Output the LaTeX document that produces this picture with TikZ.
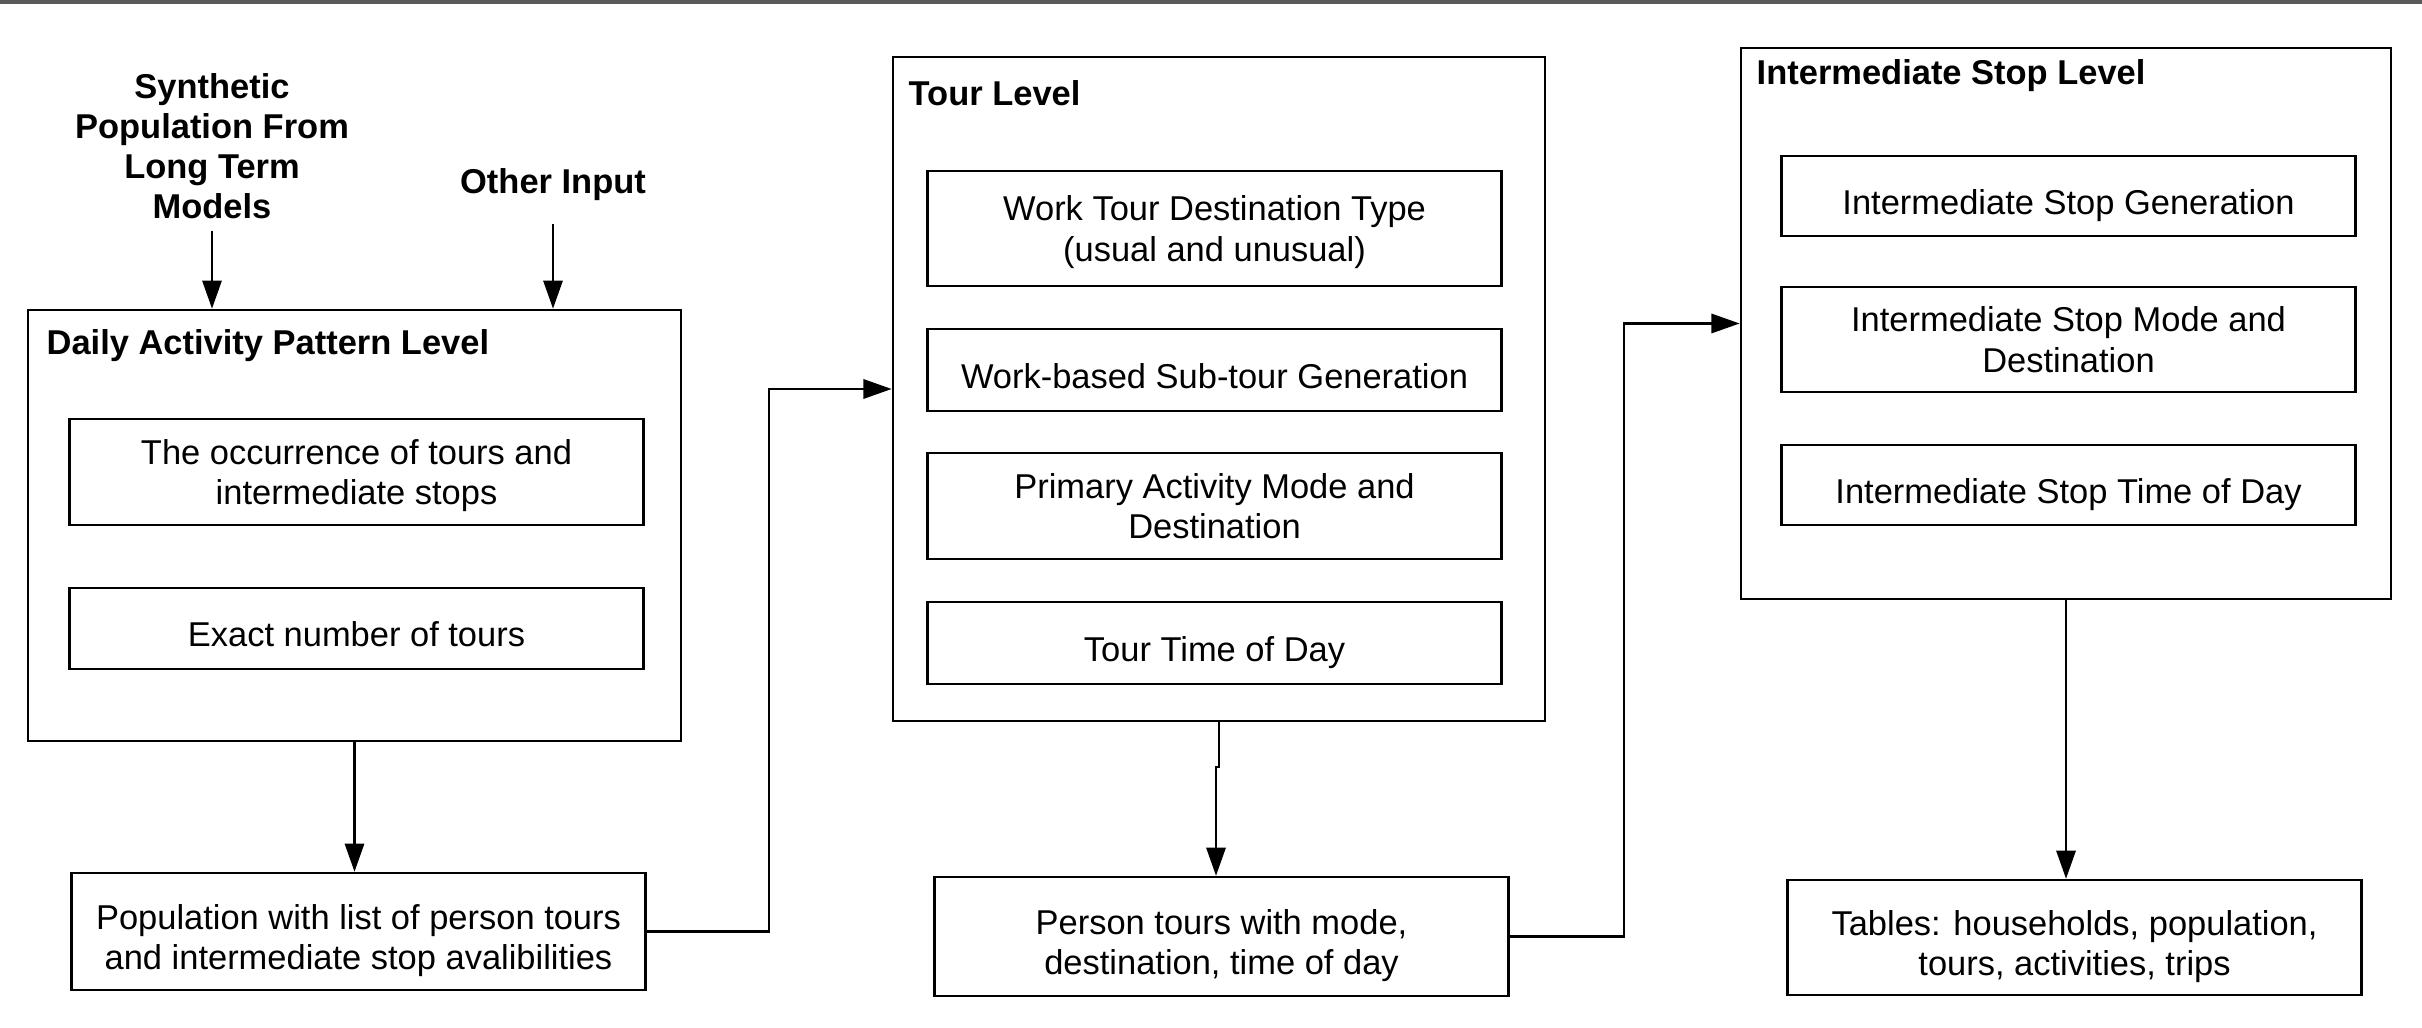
\documentclass[tikz,border=0pt]{standalone}
\usepackage{fontspec}
\setmainfont{Liberation Sans}
\usetikzlibrary{arrows.meta}
\begin{document}
\begin{tikzpicture}[x=0.01cm,y=-0.01cm,
	font=\fontsize{9.8}{11.4}\selectfont,
	level/.style={draw,line width=0.7pt,inner sep=0pt},
	box/.style={draw,line width=0.7pt,minimum width=5.74cm,align=center,inner sep=0pt,text depth=0pt},
	oneline/.style={box,text height=10.5pt},
	result/.style={box,text height=21.8pt},
	title/.style={font=\fontsize{9.8}{11.4}\selectfont\bfseries,anchor=base west,inner sep=0pt},
	arr/.style={line width=0.6pt,-{Triangle[length=8pt,width=5.5pt]}}]
	\useasboundingbox (0,0) rectangle (2422,1028);
	\fill[black!65] (0,0) rectangle (2422,4);
	% inputs
	\node[align=center,font=\fontsize{9.8}{11.4}\selectfont\bfseries] (syn) at (212,146) {Synthetic\\Population From\\Long Term\\Models};
	\node[font=\fontsize{9.8}{11.4}\selectfont\bfseries] (oth) at (553,185) {Other Input};
	% daily activity pattern level
	\node[level,minimum width=6.53cm,minimum height=4.31cm] (dap) at (354.5,525.5) {};
	\node[title] at (46,355) {Daily Activity Pattern Level};
	\node[box,minimum height=1.06cm] (occ) at (356.5,472) {The occurrence of tours and\\intermediate stops};
	\node[oneline,minimum height=0.81cm] (exact) at (356.5,628.5) {Exact number of tours};
	\node[result,minimum height=1.17cm] (pop) at (358.5,931.5) {Population with list of person tours\\and intermediate stop avalibilities};
	% tour level
	\node[level,minimum width=6.52cm,minimum height=6.64cm] (tour) at (1219,389) {};
	\node[title] at (908,106) {Tour Level};
	\node[box,minimum height=1.15cm] (wtdt) at (1214.5,228.5) {Work Tour Destination Type\\(usual and unusual)};
	\node[oneline,minimum height=0.82cm] (wbs) at (1214.5,370) {Work-based Sub-tour Generation};
	\node[box,minimum height=1.06cm] (pam) at (1214.5,506) {Primary Activity Mode and\\Destination};
	\node[oneline,minimum height=0.82cm] (ttd) at (1214.5,643) {Tour Time of Day};
	\node[result,minimum height=1.19cm] (per) at (1221.5,936.5) {Person tours with mode,\\destination, time of day};
	% intermediate stop level
	\node[level,minimum width=6.50cm,minimum height=5.51cm] (is) at (2066,323.5) {};
	\node[title] at (1756,85) {Intermediate Stop Level};
	\node[oneline,minimum height=0.80cm] (isg) at (2068.5,196) {Intermediate Stop Generation};
	\node[box,minimum height=1.05cm] (ism) at (2068.5,339.5) {Intermediate Stop Mode and\\Destination};
	\node[oneline,minimum height=0.80cm] (ist) at (2068.5,485) {Intermediate Stop Time of Day};
	\node[result,minimum height=1.15cm] (tab) at (2074.5,937.5) {Tables: households, population,\\tours, activities, trips};
	% connectors
	\draw[arr] (syn.south) -- (syn.south |- dap.north);
	\draw[arr,shorten <=3pt] (oth.south) -- (oth.south |- dap.north);
	\draw[arr] (dap.south) -- (dap.south |- pop.north);
	\draw[arr] (pop.east) -- ++(122,0) |- (tour.west);
	\coordinate (jog) at (1216,767);
	\draw[arr] (tour.south) |- (jog) -- (jog |- per.north);
	\draw[arr] (per.east) -- ++(114,0) |- (is.west);
	\draw[arr] (is.south) -- (is.south |- tab.north);
\end{tikzpicture}
\end{document}
